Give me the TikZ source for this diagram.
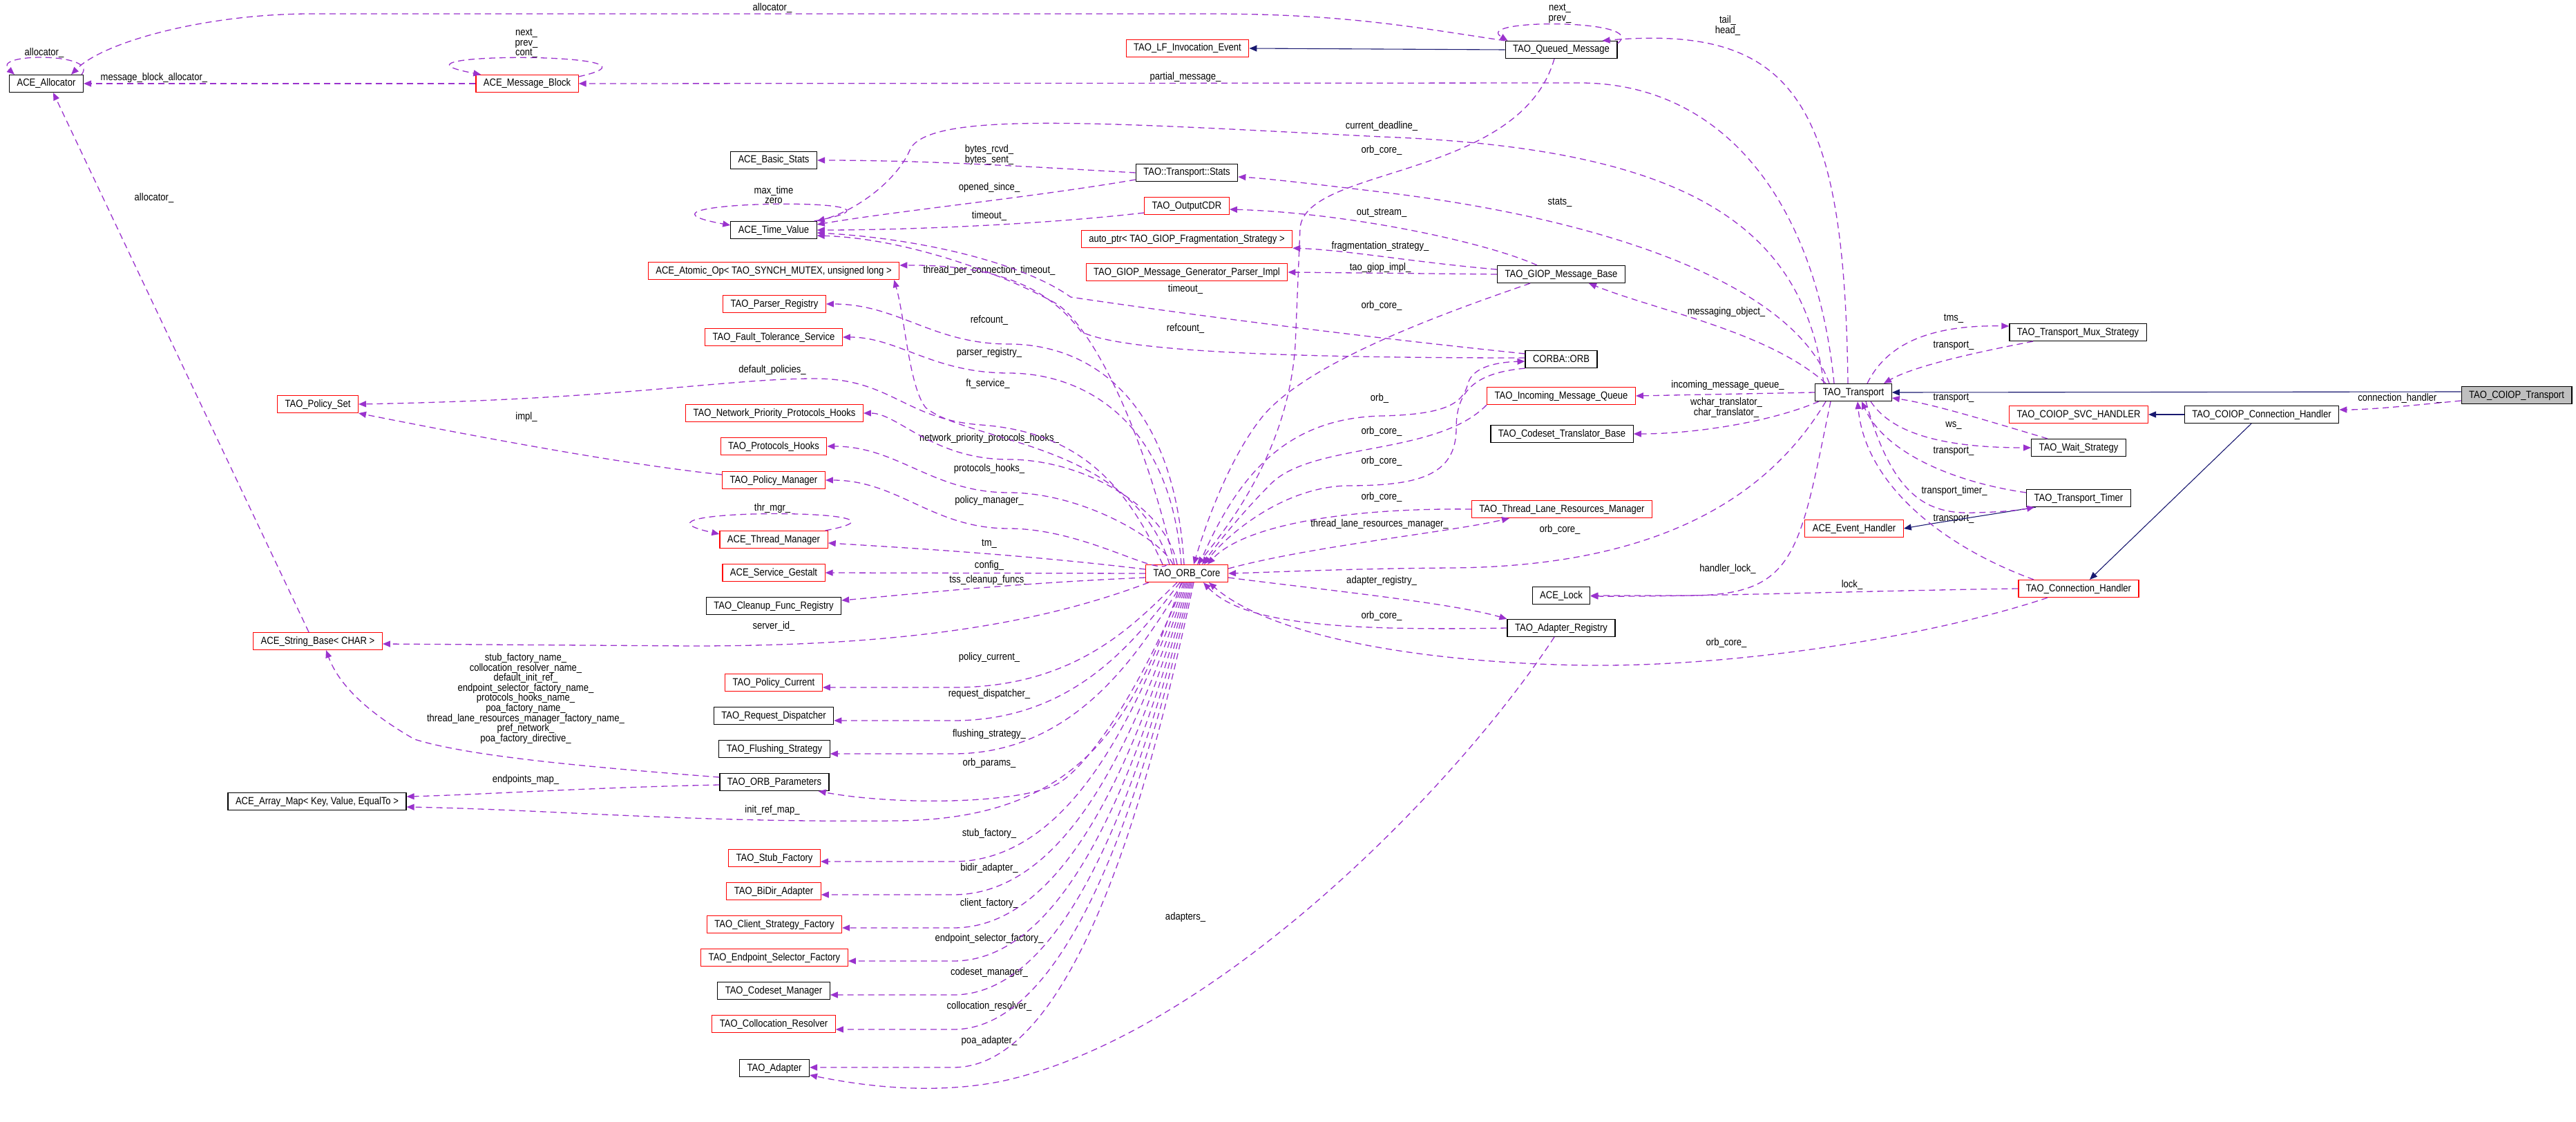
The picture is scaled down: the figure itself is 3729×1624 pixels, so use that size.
\documentclass[tikz,border=0pt]{standalone}
\usepackage{fontspec}
\setmainfont{Liberation Sans}[FakeStretch=0.87]
\usepackage{tikz}
\usetikzlibrary{arrows.meta}
\definecolor{mempurple}{HTML}{9A32CD}
\definecolor{inhnavy}{HTML}{191970}
\tikzset{
  cls/.style={draw=black, line width=1.2pt, minimum height=25pt, inner xsep=11pt, inner ysep=0pt, text height=11pt, text depth=3pt},
  redcls/.style={cls, draw=red},
  curcls/.style={cls, fill=gray!50},
  lbl/.style={inner sep=0pt, align=center},
  mem/.style={draw=mempurple, line width=1.3pt, dash pattern=on 9pt off 6pt, -{Triangle[length=11pt,width=9pt]}},
  inh/.style={draw=inhnavy, line width=1.1pt, -{Triangle[length=11pt,width=9pt]}}
}
\begin{document}
\begin{tikzpicture}[x=1pt, y=-1pt, font=\fontsize{15}{14.6}\selectfont]
    \useasboundingbox (0,0) rectangle (3729,1624);
    % classes
    \node[cls] (alloc) at (67,121) {ACE\_Allocator};
    \node[redcls] (msgblock) at (763,121) {ACE\_Message\_Block};
    \node[redcls] (lfevent) at (1719,70) {TAO\_LF\_Invocation\_Event};
    \node[cls] (queued) at (2260,72) {TAO\_Queued\_Message};
    \node[cls] (basicstats) at (1120,232) {ACE\_Basic\_Stats};
    \node[cls] (tstats) at (1718,250) {TAO::Transport::Stats};
    \node[redcls] (outcdr) at (1718,298) {TAO\_OutputCDR};
    \node[cls] (timevalue) at (1120,333) {ACE\_Time\_Value};
    \node[redcls] (autoptr) at (1718,346) {auto\_ptr< TAO\_GIOP\_Fragmentation\_Strategy >};
    \node[redcls] (atomicop) at (1120,392) {ACE\_Atomic\_Op< TAO\_SYNCH\_MUTEX, unsigned long >};
    \node[redcls] (genparser) at (1718,394) {TAO\_GIOP\_Message\_Generator\_Parser\_Impl};
    \node[cls] (giopbase) at (2260,397) {TAO\_GIOP\_Message\_Base};
    \node[redcls] (parserreg) at (1121,440) {TAO\_Parser\_Registry};
    \node[redcls] (ftservice) at (1120,488) {TAO\_Fault\_Tolerance\_Service};
    \node[cls] (corbaorb) at (2260,520) {CORBA::ORB};
    \node[redcls] (policyset) at (460,585) {TAO\_Policy\_Set};
    \node[redcls] (nethooks) at (1121,598) {TAO\_Network\_Priority\_Protocols\_Hooks};
    \node[redcls] (incoming) at (2260,573) {TAO\_Incoming\_Message\_Queue};
    \node[cls] (transport) at (2683,568) {TAO\_Transport};
    \node[cls] (codeset) at (2261,628) {TAO\_Codeset\_Translator\_Base};
    \node[cls] (muxstrat) at (3008,481) {TAO\_Transport\_Mux\_Strategy};
    \node[curcls] (coioptr) at (3643,572) {TAO\_COIOP\_Transport};
    \node[redcls] (svchandler) at (3009,600) {TAO\_COIOP\_SVC\_HANDLER};
    \node[cls] (coiopconn) at (3274,600) {TAO\_COIOP\_Connection\_Handler};
    \node[cls] (waitstrat) at (3009,648) {TAO\_Wait\_Strategy};
    \node[redcls] (prothooks) at (1120,646) {TAO\_Protocols\_Hooks};
    \node[redcls] (policymgr) at (1120,695) {TAO\_Policy\_Manager};
    \node[cls] (ttimer) at (3009,721) {TAO\_Transport\_Timer};
    \node[redcls] (tlrm) at (2261,737) {TAO\_Thread\_Lane\_Resources\_Manager};
    \node[redcls] (evhandler) at (2684,765) {ACE\_Event\_Handler};
    \node[redcls] (thrmgr) at (1120,781) {ACE\_Thread\_Manager};
    \node[redcls] (gestalt) at (1120,829) {ACE\_Service\_Gestalt};
    \node[redcls] (core) at (1718,830) {TAO\_ORB\_Core};
    \node[redcls] (conhandler) at (3009,852) {TAO\_Connection\_Handler};
    \node[cls] (acelock) at (2260,862) {ACE\_Lock};
    \node[cls] (cleanup) at (1120,877) {TAO\_Cleanup\_Func\_Registry};
    \node[cls] (adapterreg) at (2260,909) {TAO\_Adapter\_Registry};
    \node[redcls] (stringbase) at (460,928) {ACE\_String\_Base< CHAR >};
    \node[redcls] (policycur) at (1120,988) {TAO\_Policy\_Current};
    \node[cls] (reqdisp) at (1120,1036) {TAO\_Request\_Dispatcher};
    \node[cls] (flushing) at (1121,1084) {TAO\_Flushing\_Strategy};
    \node[cls] (orbparams) at (1121,1132) {TAO\_ORB\_Parameters};
    \node[cls] (arraymap) at (459,1160) {ACE\_Array\_Map< Key, Value, EqualTo >};
    \node[redcls] (stubfac) at (1121,1242) {TAO\_Stub\_Factory};
    \node[redcls] (bidir) at (1120,1290) {TAO\_BiDir\_Adapter};
    \node[redcls] (clientfac) at (1121,1338) {TAO\_Client\_Strategy\_Factory};
    \node[redcls] (endpointfac) at (1121,1386) {TAO\_Endpoint\_Selector\_Factory};
    \node[cls] (codesetmgr) at (1120,1434) {TAO\_Codeset\_Manager};
    \node[redcls] (colloc) at (1120,1482) {TAO\_Collocation\_Resolver};
    \node[cls] (adapter) at (1121,1546) {TAO\_Adapter};

    % edge labels
    \node[lbl] (l-alloc) at (64,77) {allocator\_};
    \node[lbl] (l-mbnext) at (762,63) {next\_\\prev\_\\cont\_};
    \node[lbl] (l-mballoc) at (223,113) {message\_block\_allocator\_};
    \node[lbl] (l-qalloc) at (1118,12) {allocator\_};
    \node[lbl] (l-salloc) at (223,287) {allocator\_};
    \node[lbl] (l-qnext) at (2258,20) {next\_\\prev\_};
    \node[lbl] (l-tail) at (2501,37) {tail\_\\head\_};
    \node[lbl] (l-partial) at (1716,112) {partial\_message\_};
    \node[lbl] (l-bytes) at (1432,224) {bytes\_rcvd\_\\bytes\_sent\_};
    \node[lbl] (l-maxtime) at (1120,282) {max\_time\\zero};
    \node[lbl] (l-opened) at (1432,272) {opened\_since\_};
    \node[lbl] (l-cdrtimeout) at (1432,313) {timeout\_};
    \node[lbl] (l-deadline) at (2000,183) {current\_deadline\_};
    \node[lbl] (l-qcore) at (2000,218) {orb\_core\_};
    \node[lbl] (l-stats) at (2258,293) {stats\_};
    \node[lbl] (l-outstream) at (2000,308) {out\_stream\_};
    \node[lbl] (l-frag) at (1998,357) {fragmentation\_strategy\_};
    \node[lbl] (l-giopimpl) at (1998,388) {tao\_giop\_impl\_};
    \node[lbl] (l-tpct) at (1432,392) {thread\_per\_connection\_timeout\_};
    \node[lbl] (l-orbtimeout) at (1716,419) {timeout\_};
    \node[lbl] (l-gcore) at (2000,443) {orb\_core\_};
    \node[lbl] (l-msgobj) at (2499,452) {messaging\_object\_};
    \node[lbl] (l-corerefc) at (1432,464) {refcount\_};
    \node[lbl] (l-orbrefc) at (1716,476) {refcount\_};
    \node[lbl] (l-parser) at (1432,511) {parser\_registry\_};
    \node[lbl] (l-defpol) at (1118,536) {default\_policies\_};
    \node[lbl] (l-ft) at (1430,556) {ft\_service\_};
    \node[lbl] (l-incoming) at (2501,558) {incoming\_message\_queue\_};
    \node[lbl] (l-orb) at (1997,577) {orb\_};
    \node[lbl] (l-translator) at (2499,590) {wchar\_translator\_\\char\_translator\_};
    \node[lbl] (l-impl) at (762,604) {impl\_};
    \node[lbl] (l-iqcore) at (2000,625) {orb\_core\_};
    \node[lbl] (l-nph) at (1432,635) {network\_priority\_protocols\_hooks\_};
    \node[lbl] (l-orbcore) at (2000,668) {orb\_core\_};
    \node[lbl] (l-ph) at (1432,679) {protocols\_hooks\_};
    \node[lbl] (l-tlrmcore) at (2000,720) {orb\_core\_};
    \node[lbl] (l-pm) at (1432,725) {policy\_manager\_};
    \node[lbl] (l-thrmgr) at (1118,736) {thr\_mgr\_};
    \node[lbl] (l-tlrm) at (1997,759) {thread\_lane\_resources\_manager\_};
    \node[lbl] (l-tcore) at (2258,767) {orb\_core\_};
    \node[lbl] (l-tm) at (1432,787) {tm\_};
    \node[lbl] (l-config) at (1432,819) {config\_};
    \node[lbl] (l-handlerlock) at (2501,824) {handler\_lock\_};
    \node[lbl] (l-tss) at (1432,840) {tss\_cleanup\_funcs\_};
    \node[lbl] (l-areg) at (2000,841) {adapter\_registry\_};
    \node[lbl] (l-lock) at (2681,847) {lock\_};
    \node[lbl] (l-arcore) at (2000,892) {orb\_core\_};
    \node[lbl] (l-server) at (1120,907) {server\_id\_};
    \node[lbl] (l-chcore) at (2499,931) {orb\_core\_};
    \node[lbl] (l-names) at (761,1011) {stub\_factory\_name\_\\collocation\_resolver\_name\_\\default\_init\_ref\_\\endpoint\_selector\_factory\_name\_\\protocols\_hooks\_name\_\\poa\_factory\_name\_\\thread\_lane\_resources\_manager\_factory\_name\_\\pref\_network\_\\poa\_factory\_directive\_};
    \node[lbl] (l-polcur) at (1432,952) {policy\_current\_};
    \node[lbl] (l-reqdisp) at (1432,1005) {request\_dispatcher\_};
    \node[lbl] (l-flush) at (1432,1063) {flushing\_strategy\_};
    \node[lbl] (l-orbparams) at (1432,1105) {orb\_params\_};
    \node[lbl] (l-epmap) at (761,1129) {endpoints\_map\_};
    \node[lbl] (l-initref) at (1118,1173) {init\_ref\_map\_};
    \node[lbl] (l-stub) at (1432,1207) {stub\_factory\_};
    \node[lbl] (l-bidir) at (1432,1257) {bidir\_adapter\_};
    \node[lbl] (l-client) at (1432,1308) {client\_factory\_};
    \node[lbl] (l-adapters) at (1716,1328) {adapters\_};
    \node[lbl] (l-endpoint) at (1432,1359) {endpoint\_selector\_factory\_};
    \node[lbl] (l-codeset) at (1432,1408) {codeset\_manager\_};
    \node[lbl] (l-colloc) at (1432,1457) {collocation\_resolver\_};
    \node[lbl] (l-poa) at (1432,1507) {poa\_adapter\_};
    \node[lbl] (l-tms) at (2828,461) {tms\_};
    \node[lbl] (l-muxtr) at (2828,500) {transport\_};
    \node[lbl] (l-wstr) at (2828,576) {transport\_};
    \node[lbl] (l-ws) at (2828,616) {ws\_};
    \node[lbl] (l-ttr) at (2828,653) {transport\_};
    \node[lbl] (l-ttimer) at (2829,711) {transport\_timer\_};
    \node[lbl] (l-chtr) at (2828,751) {transport\_};
    \node[lbl] (l-connh) at (3474,577) {connection\_handler\_};

    % inheritance
    \draw[inh] (queued.west) -- (lfevent.east);
    \draw[inh] ([yshift=5pt]coioptr.west) -- (transport.east);
    \draw[inh] (coiopconn.west) -- (svchandler.east);
    \draw[inh] ([xshift=-15pt]coiopconn.south) -- ([xshift=16pt]conhandler.north);
    \draw[inh] ([xshift=-62pt]ttimer.south) .. controls (2880,745) and (2800,757) .. (evhandler.east);

    % self loops
    \draw[mem] ([xshift=-3pt]alloc.north east) .. controls (145,76) and (-15,76) .. ([xshift=8pt]alloc.north west);
    \draw[mem] ([yshift=-3pt]msgblock.north east) .. controls (1000,75) and (520,75) .. ([xshift=8pt]msgblock.north west);
    \draw[mem] ([yshift=-4pt]queued.north east) .. controls (2390,27) and (2130,27) .. ([xshift=4pt]queued.north west);
    \draw[mem] ([xshift=-4pt]timevalue.north east) .. controls (1380,283) and (860,290) .. ([yshift=7pt]timevalue.west);
    \draw[mem] ([xshift=-4pt]thrmgr.north east) .. controls (1370,735) and (870,735) .. ([yshift=8pt]thrmgr.west);

    % members of the allocator users
    \draw[mem] (msgblock.west) -- (alloc.east);
    \draw[mem] (queued.north west) .. controls (2050,40) and (1950,20) .. (1750,20) -- (450,20) .. controls (300,20) and (150,60) .. ([xshift=-18pt]alloc.north east);
    \draw[mem] ([xshift=-13pt]stringbase.north) -- ([xshift=10pt]alloc.south);

    % members of TAO_Transport
    \draw[mem] ([xshift=-28pt]transport.north) .. controls (2630,300) and (2500,122) .. (2290,120) -- (msgblock.east);
    \draw[mem] ([xshift=-8pt]transport.north) .. controls (2670,150) and (2600,35) .. ([xshift=-22pt]queued.north east);
    \draw[mem] ([xshift=-43pt]transport.north) .. controls (2610,330) and (2450,215) .. (2000,198) .. controls (1600,178) and (1350,160) .. (1318,215) .. controls (1300,260) and (1240,305) .. (timevalue.north east);
    \draw[mem] ([xshift=-35pt]transport.north) .. controls (2600,420) and (2350,320) .. (2000,278) .. controls (1900,266) and (1830,258) .. ([yshift=-6pt]tstats.east);
    \draw[mem] ([xshift=-40pt]transport.north) .. controls (2560,480) and (2400,450) .. ([xshift=40pt]giopbase.south);
    \draw[mem] (transport.west) -- (incoming.east);
    \draw[mem] ([xshift=-50pt]transport.south) .. controls (2560,612) and (2450,628) .. (codeset.east);
    \draw[mem] ([xshift=-33pt]transport.south) .. controls (2605,800) and (2600,860) .. (2450,862) -- (acelock.east);
    \draw[mem] ([xshift=-40pt]transport.south) .. controls (2560,720) and (2400,820) .. (2100,822) .. controls (1950,823) and (1850,828) .. (core.east);
    \draw[mem] ([xshift=20pt]transport.north) .. controls (2730,500) and (2790,470) .. ([yshift=9pt]muxstrat.west);
    \draw[mem] ([xshift=25pt]transport.south) .. controls (2740,630) and (2820,648) .. (waitstrat.west);
    \draw[mem] ([xshift=18pt]transport.south) .. controls (2740,720) and (2790,745) .. (2860,742) .. controls (2900,741) and (2925,738) .. ([xshift=-64pt]ttimer.south);

    % back to TAO_Transport
    \draw[mem] ([xshift=-65pt]muxstrat.south) .. controls (2860,510) and (2770,530) .. ([xshift=44pt]transport.north);
    \draw[mem] ([xshift=-45pt]waitstrat.north) .. controls (2880,610) and (2800,585) .. ([yshift=-8pt]transport.east);
    \draw[mem] ([yshift=8pt]ttimer.west) .. controls (2840,700) and (2730,660) .. ([xshift=12pt]transport.south);
    \draw[mem] ([xshift=-65pt]conhandler.north) .. controls (2810,790) and (2700,700) .. ([xshift=6pt]transport.south);
    \draw[mem] (conhandler.west) .. controls (2700,855) and (2450,864) .. ([yshift=-1pt]acelock.east);
    \draw[mem] ([yshift=-8pt]coioptr.west) .. controls (3480,588) and (3430,593) .. ([yshift=7pt]coiopconn.east);
    \draw[mem] ([xshift=-45pt]conhandler.south) .. controls (2800,920) and (2520,965) .. (2300,963) .. controls (2100,961) and (1850,930) .. ([xshift=32pt]core.south);

    % stats, messages and ORB
    \draw[mem] (tstats.west) .. controls (1500,242) and (1350,232) .. (basicstats.east);
    \draw[mem] ([yshift=-10pt]tstats.west) .. controls (1500,285) and (1300,305) .. ([yshift=8pt]timevalue.east);
    \draw[mem] ([yshift=-10pt]outcdr.west) .. controls (1500,326) and (1300,333) .. (timevalue.east);
    \draw[mem] ([xshift=-35pt]giopbase.north) .. controls (2150,350) and (1950,308) .. ([yshift=-5pt]outcdr.east);
    \draw[mem] ([yshift=7pt]giopbase.west) .. controls (2050,380) and (1950,362) .. (autoptr.south east);
    \draw[mem] (giopbase.west) -- (genparser.east);
    \draw[mem] ([xshift=-45pt]giopbase.south) .. controls (2100,450) and (1900,520) .. (1830,600) .. controls (1780,660) and (1745,760) .. ([xshift=10pt]core.north);
    \draw[mem] ([xshift=-10pt]queued.south) .. controls (2200,260) and (1890,240) .. (1882,330) -- (1875,500) .. controls (1865,650) and (1780,760) .. ([xshift=15pt]core.north);
    \draw[mem] ([yshift=8pt]corbaorb.west) .. controls (1900,480) and (1650,445) .. (1550,430) .. controls (1480,380) and (1330,345) .. ([yshift=-4pt]timevalue.east);
    \draw[mem] ([yshift=2pt]corbaorb.west) .. controls (1850,518) and (1620,508) .. (1565,480) .. controls (1520,420) and (1450,383) .. ([yshift=8pt]atomicop.east);
    \draw[mem] (corbaorb.south west) .. controls (2130,540) and (2108,570) .. (2108,620) .. controls (2108,690) and (2050,703) .. (1950,703) .. controls (1860,705) and (1780,770) .. ([xshift=25pt]core.north);
    \draw[mem] (incoming.south west) .. controls (2080,660) and (1900,640) .. (1840,700) .. controls (1795,745) and (1760,790) .. ([xshift=22pt]core.north);
    \draw[mem] (tlrm.west) .. controls (1950,735) and (1800,760) .. ([xshift=30pt]core.north);
    \draw[mem] (adapterreg.west) .. controls (1950,913) and (1800,905) .. ([xshift=24pt]core.south);
    \draw[mem] ([xshift=-10pt]adapterreg.south) .. controls (2100,1150) and (1750,1500) .. (1450,1565) .. controls (1350,1585) and (1250,1572) .. ([yshift=-10pt]adapter.east);
    \draw[mem] ([yshift=8pt]policymgr.west) .. controls (900,672) and (680,630) .. (policyset.south east);
    \draw[mem] ([yshift=7pt]orbparams.west) .. controls (850,1110) and (680,1095) .. (600,1070) .. controls (530,1030) and (490,990) .. ([xshift=12pt]stringbase.south);
    \draw[mem] ([yshift=-4pt]orbparams.west) .. controls (850,1140) and (700,1150) .. ([yshift=7pt]arraymap.east);

    % members of TAO_ORB_Core
    \draw[mem] ([xshift=18pt]core.north) .. controls (1790,690) and (1860,605) .. (2000,602) .. controls (2090,600) and (2118,585) .. (2125,555) .. controls (2132,530) and (2170,524) .. ([yshift=-3pt]corbaorb.west);
    \draw[mem] ([yshift=7pt]core.east) .. controls (1900,790) and (2100,770) .. ([xshift=-76pt]tlrm.south);
    \draw[mem] ([yshift=-6pt]core.east) .. controls (1900,852) and (2100,872) .. (adapterreg.north west);
    \draw[mem] ([xshift=-18pt]core.north) .. controls (1650,600) and (1575,470) .. (1530,440) .. controls (1450,395) and (1310,345) .. ([yshift=-8pt]timevalue.east);
    \draw[mem] ([xshift=-25pt]core.north) .. controls (1640,640) and (1400,640) .. (1340,590) .. controls (1316,560) and (1310,460) .. ([xshift=-8pt]atomicop.south east);
    \draw[mem] ([xshift=-35pt]core.north) .. controls (1630,700) and (1560,625) .. (1420,615) .. controls (1310,607) and (1290,548) .. (1180,548) .. controls (1050,548) and (900,578) .. (policyset.east);
    \foreach \m/\ym/\yf/\sx in {parserreg/440/498/-4, ftservice/488/540/-8, nethooks/598/665/-14, prothooks/646/713/-20, policymgr/695/765/-28}
      \draw[mem] ([xshift=\sx pt]core.north) .. controls ({1703+\sx},{\yf+70}) and (1570,\yf) .. (1460,\yf) .. controls (1350,\yf) and (1300,\ym) .. (\m.east);
    \draw[mem] ([yshift=6pt]core.west) .. controls (1500,805) and (1350,795) .. ([yshift=-5pt]thrmgr.east);
    \draw[mem] (core.west) -- (gestalt.east);
    \draw[mem] ([yshift=-6pt]core.west) .. controls (1450,845) and (1300,862) .. ([yshift=8pt]cleanup.east);
    \draw[mem] ([xshift=5pt]core.south west) .. controls (1500,905) and (1300,935) .. (1000,935) -- ([yshift=-4pt]stringbase.east);
    \foreach \m/\ym/\sx/\ty in {policycur/988/-14/-7, reqdisp/1036/-10/-7, flushing/1084/-6/-7, stubfac/1242/-2/-5, bidir/1290/0/-5, clientfac/1338/2/-5, endpointfac/1386/4/-5, codesetmgr/1434/6/-6, colloc/1482/8/-8, adapter/1546/10/1}
      \draw[mem] ([xshift=\sx pt]core.south) .. controls ({1658+\sx},{843+0.4*(\ym-843)}) and (1560,{\ym-\ty}) .. (1380,{\ym-\ty}) -- ([yshift=\ty pt]\m.east);
    \draw[mem] ([xshift=-4pt]core.south) .. controls (1650,1000) and (1575,1110) .. (1530,1135) .. controls (1470,1165) and (1290,1165) .. ([xshift=-16pt]orbparams.south east);
    \draw[mem] ([xshift=-8pt]core.south) .. controls (1640,1050) and (1560,1185) .. (1300,1188) .. controls (1000,1191) and (800,1172) .. ([yshift=-8pt]arraymap.east);
\end{tikzpicture}
\end{document}
